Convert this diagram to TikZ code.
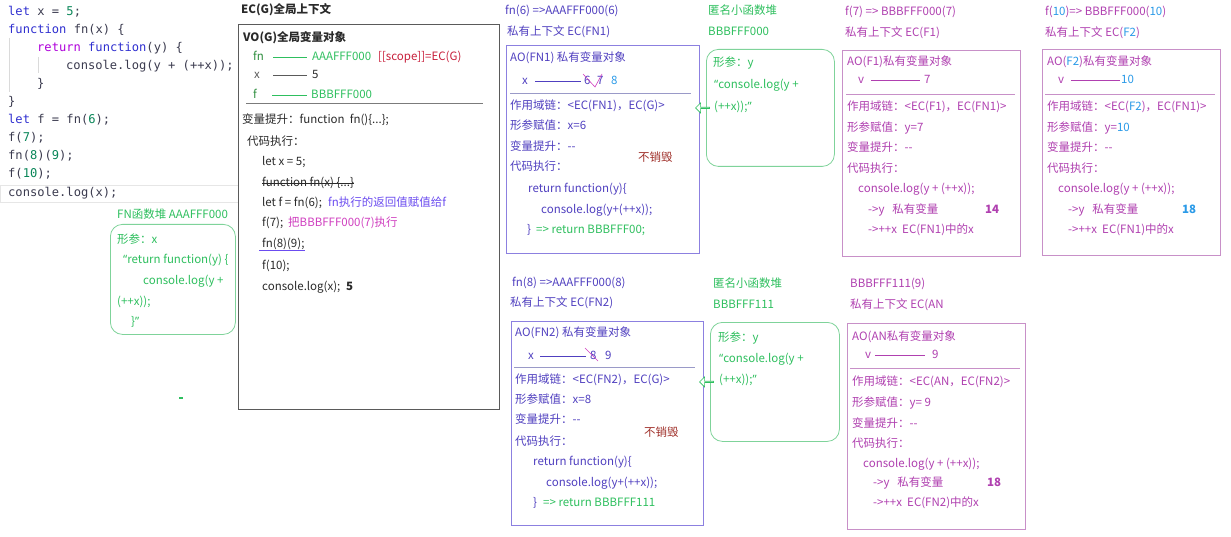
\documentclass[tikz,border=0pt]{standalone}
\usepackage{fontspec}
\setmainfont{Noto Sans CJK SC}[Ligatures=TeXOff]
\newfontfamily\monofam{DejaVu Sans Mono}
\newfontfamily\latfam{Noto Sans}
\usetikzlibrary{shapes.arrows,calc}

\definecolor{cd}{HTML}{3B3B4F}
\definecolor{ckw}{HTML}{2F2FD0}
\definecolor{crt}{HTML}{AF00DB}
\definecolor{cnum}{HTML}{098658}
\definecolor{ink}{HTML}{2A2A2A}
\definecolor{egray}{HTML}{5A5A5A}
\definecolor{ggray}{HTML}{DADADA}
\definecolor{lgray}{HTML}{E6E6E6}
\definecolor{gln}{HTML}{2EBF5E}
\definecolor{gdk}{HTML}{2F8F3F}
\definecolor{gbd}{HTML}{7FD39A}
\definecolor{crim}{HTML}{C8203C}
\definecolor{ind}{HTML}{5040C0}
\definecolor{indb}{HTML}{8C80E0}
\definecolor{indg}{HTML}{9A9AC8}
\definecolor{mag}{HTML}{B040B0}
\definecolor{magb}{HTML}{C890C8}
\definecolor{sky}{HTML}{2A9AE8}
\definecolor{brn}{HTML}{A0302A}
\definecolor{vio}{HTML}{6B4CF0}
\definecolor{pnk}{HTML}{D040C0}

\newcommand\ui{\fontsize{11.5}{14}\selectfont}
\newcommand\cfont{\monofam\fontsize{12.1}{14}\selectfont}
\newcommand\kwd[1]{\textcolor{ckw}{#1}}
\newcommand\kret[1]{\textcolor{crt}{#1}}
\newcommand\knum[1]{\textcolor{cnum}{#1}}
\newcommand\ksky[1]{\textcolor{sky}{#1}}
\newcommand\qopen{{\latfam “}}
\newcommand\qclose{{\latfam ”}}

\begin{document}
\begin{tikzpicture}[x=1pt,y=-1pt,
  txt/.style={inner sep=0pt,anchor=west,font=\ui,text height=9pt,text depth=2.5pt,text=ink},
  codeln/.style={txt,font=\cfont,text=cd},
  fnt/.style={txt,text=ind},
  ant/.style={txt,text=mag},
  hpt/.style={txt,text=gln},
  box/.style={draw,line width=0.8pt,inner sep=0pt,anchor=north west},
  heap/.style={box,draw=gbd,rounded corners=12pt},
  valln/.style={line width=0.7pt},
  sepln/.style={line width=0.8pt},
  ptr/.style={single arrow,draw=gln,fill=white,line width=0.7pt,shape border rotate=180,
    minimum height=14pt,minimum width=10pt,single arrow head extend=2.5pt,inner sep=0pt}]
  \fill[white] (0,0) rectangle (1231,537);
  \useasboundingbox (0,0) rectangle (1231,537);

  % source code on the left
  \draw[ggray] (9,38) -- (9,92);
  \draw[ggray] (38,57) -- (38,73);
  \draw[lgray] (0,185) rectangle (238,202);
  \node[codeln] (c1) at (8,12) {\kwd{let} x = \knum{5};};
  \node[codeln] (c2) at (8,30) {\kwd{function} fn(x) \{};
  \node[codeln] (c3) at (37,48) {\kret{return} \kwd{function}(y) \{};
  \node[codeln] (c4) at (66,66) {console.log(y + (++x));};
  \node[codeln] (c5) at (37,84) {\}};
  \node[codeln] (c6) at (8,102) {\}};
  \node[codeln] (c7) at (8,120) {\kwd{let} f = fn(\knum{6});};
  \node[codeln] (c8) at (8,138) {f(\knum{7});};
  \node[codeln] (c9) at (8,156) {fn(\knum{8})(\knum{9});};
  \node[codeln] (c10) at (8,174) {f(\knum{10});};
  \node[codeln] (c11) at (8,193) {console.log(x);};

  % EC(G) global context
  \node[txt,font=\ui\bfseries] (ecgt) at (241,10) {EC(G)全局上下文};
  \node[box,draw=egray,minimum width=261pt,minimum height=385pt] (ecg) at (238,24) {};
  \node[txt,font=\ui\bfseries] (vo) at (243,38) {VO(G)全局变量对象};
  \node[txt,text=gdk] (vfn) at (253,57) {fn};
  \node[txt,text=gln] (vfnv) at (312,57) {AAAFFF000};
  \node[txt,text=crim] (vsc) at (378,57) {[[scope]]=EC(G)};
  \node[txt,text=egray] (vx) at (254,75) {x};
  \node[txt] (vxv) at (312,75) {5};
  \node[txt,text=gdk] (vf) at (253,95) {f};
  \node[txt,text=gln] (vfv) at (311,95) {BBBFFF000};
  \draw[valln,gln] ([xshift=9pt]vfn.east) -- ([xshift=-5pt]vfnv.west);
  \draw[valln,egray] ([xshift=13pt]vx.east) -- ([xshift=-5pt]vxv.west);
  \draw[valln,gln] ([xshift=15pt]vf.east) -- ([xshift=-4pt]vfv.west);
  \draw[sepln,egray!80] (246,103) -- (483,103);
  \node[txt] (e1) at (242,120) {变量提升：function\ \ fn()\{...\};};
  \node[txt] (e2) at (247,142) {代码执行：};
  \node[txt] (e3) at (262,162) {let x = 5;};
  \node[txt] (e4) at (262,183) {function fn(x) \{...\}};
  \draw[ink,line width=0.6pt] (e4.west) -- (e4.east);
  \node[txt] (e5) at (262,203) {let f = fn(6);};
  \node[txt,text=vio] (e5n) at (328,203) {fn执行的返回值赋值给f};
  \node[txt] (e6) at (262,223) {f(7);};
  \node[txt,text=pnk] (e6n) at (288,223) {把BBBFFF000(7)执行};
  \node[txt] (e7) at (262,244) {fn(8)(9);};
  \draw[vio,line width=0.7pt] ([xshift=-3pt]e7.south west) -- (e7.south east);
  \node[txt] (e8) at (262,266) {f(10);};
  \node[txt] (e9) at (262,287) {console.log(x);};
  \node[txt,font=\ui\bfseries] (e9n) at (346,287) {5};

  % FN function heap
  \node[hpt] (fnht) at (117,215) {FN函数堆 AAAFFF000};
  \node[heap,minimum width=125pt,minimum height=110pt] (fnheap) at (110,224) {};
  \node[hpt] (fh1) at (117,240) {形参：x};
  \node[hpt] (fh2) at (123,260) {\qopen return function(y) \{};
  \node[hpt] (fh3) at (143,281) {console.log(y +};
  \node[hpt] (fh4) at (117,302) {(++x));};
  \node[hpt] (fh5) at (131,322) {\}\qclose};
  \fill[gln] (179,397) rectangle (183,399);

  % EC(FN1)
  \node[fnt] (fn1t) at (505,11) {fn(6) =>AAAFFF000(6)};
  \node[fnt] (fn1e) at (507,32) {私有上下文 EC(FN1)};
  \node[box,draw=indb,minimum width=193pt,minimum height=208pt] (fn1box) at (506,45) {};
  \node[fnt] (a1) at (510,58) {AO(FN1) 私有变量对象};
  \node[fnt] (a1x) at (522,81) {x};
  \node[fnt] (a1v6) at (584,81) {6};
  \node[fnt] (a1v7) at (597,81) {7};
  \node[txt,text=sky] (a1v8) at (611,81) {8};
  \draw[valln,ind] ([xshift=7pt]a1x.east) -- ([xshift=-3pt]a1v6.west);
  \draw[pnk,line width=0.6pt] (583,74) -- (595,87) -- (602,74);
  \draw[sepln,indg] (510,93) -- (691,93);
  \node[fnt] (a2) at (510,106) {作用域链：<EC(FN1)，EC(G)>};
  \node[fnt] (a3) at (510,126) {形参赋值：x=6};
  \node[fnt] (a4) at (510,147) {变量提升：--};
  \node[fnt] (a5) at (510,167) {代码执行：};
  \node[fnt] (a6) at (528,189) {return function(y)\{};
  \node[fnt] (a7) at (541,210) {console.log(y+(++x));};
  \node[fnt] (a8) at (527,230) {\}};
  \node[hpt] (a8r) at (536,230) {=> return BBBFFF00;};
  \node[txt,text=brn] (a9) at (638,158) {不销毁};

  % anonymous heap BBBFFF000
  \node[hpt] (an1t) at (708,11) {匿名小函数堆};
  \node[hpt] (an1a) at (708,32) {BBBFFF000};
  \node[heap,minimum width=128pt,minimum height=117pt] (anon1) at (706,49) {};
  \node[hpt] (b1) at (713,63) {形参：y};
  \node[hpt] (b2) at (714,85) {\qopen console.log(y +};
  \node[hpt] (b3) at (714,107) {(++x));\qclose};
  \node[ptr] (p1) at ($(anon1.west)!0.5!(fn1box.east |- anon1.west)$) {};

  % EC(F1)
  \node[ant] (f1t) at (845,12) {f(7) => BBBFFF000(7)};
  \node[ant] (f1e) at (845,33) {私有上下文 EC(F1)};
  \node[box,draw=magb,minimum width=178pt,minimum height=206pt] (f1box) at (842,50) {};
  \node[ant] (d1) at (847,62) {AO(F1)私有变量对象};
  \node[ant] (d1y) at (858,80) {v};
  \node[ant] (d1v) at (924,80) {7};
  \draw[valln,mag] ([xshift=7pt]d1y.east) -- ([xshift=-4pt]d1v.west);
  \draw[sepln,magb] (846,94) -- (1015,94);
  \node[ant] (d2) at (847,107) {作用域链：<EC(F1)，EC(FN1)>};
  \node[ant] (d3) at (847,128) {形参赋值：y=7};
  \node[ant] (d4) at (847,148) {变量提升：--};
  \node[ant] (d5) at (847,169) {代码执行：};
  \node[ant] (d6) at (858,189) {console.log(y + (++x));};
  \node[ant] (d7) at (868,210) {->y\ \ \ 私有变量};
  \node[ant,font=\ui\bfseries] (d7r) at (985,210) {14};
  \node[ant] (d8) at (868,230) {->++x\ \ EC(FN1)中的x};

  % EC(F2)
  \node[ant] (f2t) at (1045,12) {f(\ksky{10})=> BBBFFF000(\ksky{10})};
  \node[ant] (f2e) at (1045,33) {私有上下文 EC(\ksky{F2})};
  \node[box,draw=magb,minimum width=178pt,minimum height=206pt] (f2box) at (1042,49) {};
  \node[ant] (g1) at (1047,62) {AO(\ksky{F2})私有变量对象};
  \node[ant] (g1y) at (1058,80) {v};
  \node[txt,text=sky] (g1v) at (1121,80) {10};
  \draw[valln,mag] ([xshift=7pt]g1y.east) -- ([xshift=-1pt]g1v.west);
  \draw[sepln,magb] (1045,94) -- (1215,94);
  \node[ant] (g2) at (1047,107) {作用域链：<EC(\ksky{F2})，EC(FN1)>};
  \node[ant] (g3) at (1047,128) {形参赋值：y=\ksky{10}};
  \node[ant] (g4) at (1047,148) {变量提升：--};
  \node[ant] (g5) at (1047,169) {代码执行：};
  \node[ant] (g6) at (1058,189) {console.log(y + (++x));};
  \node[ant] (g7) at (1068,210) {->y\ \ \ 私有变量};
  \node[txt,text=sky,font=\ui\bfseries] (g7r) at (1182,210) {18};
  \node[ant] (g8) at (1068,230) {->++x\ \ EC(FN1)中的x};

  % EC(FN2)
  \node[fnt] (fn2t) at (512,283) {fn(8) =>AAAFFF000(8)};
  \node[fnt] (fn2e) at (510,303) {私有上下文 EC(FN2)};
  \node[box,draw=indb,minimum width=192pt,minimum height=204pt] (fn2box) at (511,321) {};
  \node[fnt] (h1) at (515,333) {AO(FN2) 私有变量对象};
  \node[fnt] (h1x) at (528,356) {x};
  \node[fnt] (h1v8) at (590,356) {8};
  \node[fnt] (h1v9) at (605,356) {9};
  \draw[valln,ind] ([xshift=6pt]h1x.east) -- ([xshift=-4pt]h1v8.west);
  \draw[pnk,line width=0.6pt] (585,348) -- (598,361);
  \draw[sepln,indg] (514,367) -- (695,367);
  \node[fnt] (h2) at (515,380) {作用域链：<EC(FN2)，EC(G)>};
  \node[fnt] (h3) at (515,400) {形参赋值：x=8};
  \node[fnt] (h4) at (515,420) {变量提升：--};
  \node[fnt] (h5) at (515,442) {代码执行：};
  \node[fnt] (h6) at (533,462) {return function(y)\{};
  \node[fnt] (h7) at (546,483) {console.log(y+(++x));};
  \node[fnt] (h8) at (533,503) {\}};
  \node[hpt] (h8r) at (543,503) {=> return BBBFFF111};
  \node[txt,text=brn] (h9) at (644,433) {不销毁};

  % anonymous heap BBBFFF111
  \node[hpt] (an2t) at (713,284) {匿名小函数堆};
  \node[hpt] (an2a) at (713,305) {BBBFFF111};
  \node[heap,minimum width=129pt,minimum height=119pt] (anon2) at (710,322) {};
  \node[hpt] (k1) at (718,338) {形参：y};
  \node[hpt] (k2) at (719,359) {\qopen console.log(y +};
  \node[hpt] (k3) at (719,380) {(++x));\qclose};
  \node[ptr] (p2) at ($(anon2.west)!0.5!(fn2box.east |- anon2.west)$) {};

  % EC(AN)
  \node[ant] (ant) at (850,284) {BBBFFF111(9)};
  \node[ant] (ane) at (850,305) {私有上下文 EC(AN};
  \node[box,draw=magb,minimum width=178pt,minimum height=206pt] (anbox) at (847,323) {};
  \node[ant] (m1) at (852,337) {AO(AN私有变量对象};
  \node[ant] (m1y) at (865,355) {v};
  \node[ant] (m1v) at (932,355) {9};
  \draw[valln,mag] ([xshift=4pt]m1y.east) -- ([xshift=-7pt]m1v.west);
  \draw[sepln,magb] (850,368) -- (1020,368);
  \node[ant] (m2) at (852,382) {作用域链：<EC(AN，EC(FN2)>};
  \node[ant] (m3) at (852,403) {形参赋值：y= 9};
  \node[ant] (m4) at (852,424) {变量提升：--};
  \node[ant] (m5) at (852,444) {代码执行：};
  \node[ant] (m6) at (863,464) {console.log(y + (++x));};
  \node[ant] (m7) at (873,483) {->y\ \ \ 私有变量};
  \node[ant,font=\ui\bfseries] (m7r) at (987,483) {18};
  \node[ant] (m8) at (873,503) {->++x\ \ EC(FN2)中的x};
\end{tikzpicture}
\end{document}
